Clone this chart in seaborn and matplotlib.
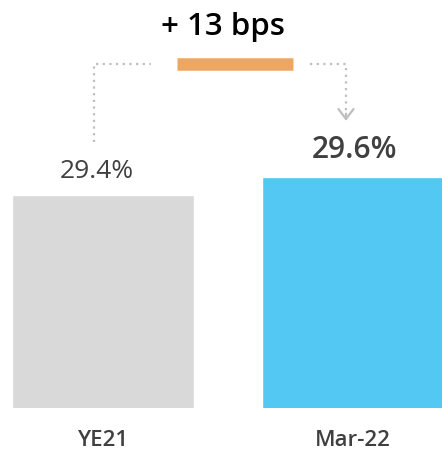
import matplotlib
matplotlib.use("Agg")
import matplotlib.pyplot as plt
import seaborn as sns

# data
periods = ["YE21", "Mar-22"]
ratios = [29.4, 29.6]
value_labels = ["29.4%", "29.6%"]
change_label = "+ 13 bps"
bar_colors = ["#d9d9d9", "#53c8f3"]

sns.set_theme(style="white")
plt.rcParams["font.family"] = ["Open Sans", "DejaVu Sans"]

fig = plt.figure(figsize=(4.42, 4.53), dpi=100)
ax = fig.add_axes([0, 45 / 453, 1, 408 / 453])

sns.barplot(x=periods, y=ratios, hue=periods, palette=bar_colors, width=0.73,
            legend=False, ax=ax, saturation=1)

# axis baseline is not zero (bars start around 27%)
ax.set_ylim(27.03, 27.03 + 408 / 90)
ax.set_xlim(-0.412, 1.356)
ax.set_yticks([])
ax.set_ylabel("")
ax.set_xlabel("")
for s in ax.spines.values():
    s.set_visible(False)
ax.tick_params(axis="x", length=0, pad=16)
for t in ax.get_xticklabels():
    t.set_fontweight("semibold")
    t.set_color("#404040")
    t.set_fontsize(16)

# value labels
ax.annotate(value_labels[0], (-0.025, ratios[0]), xytext=(0, 17), textcoords="offset points",
            ha="center", va="center", fontsize=19, color="#404040")
ax.annotate(value_labels[1], (1.005, ratios[1]), xytext=(0, 19), textcoords="offset points",
            ha="center", va="center", fontsize=21.5, fontweight="semibold", color="#404040")

# bracket connecting the two bars
lvl = 30.85
gray = "#bfbfbf"
ax.plot([-0.036, -0.036, 0.19], [ratios[0] + 0.59, lvl, lvl], ls=(0, (1, 2)),
        lw=1.6, color=gray, clip_on=False)
ax.plot([0.828, 0.972, 0.972], [lvl, lvl, ratios[1] + 0.64], ls=(0, (1, 2)),
        lw=1.6, color=gray, clip_on=False)
ax.annotate("", xy=(0.972, ratios[1] + 0.62), xytext=(0.972, ratios[1] + 0.70),
            arrowprops=dict(arrowstyle="->,head_length=0.6,head_width=0.45",
                            color=gray, lw=1.6, shrinkA=0, shrinkB=0))
ax.plot([0.296, 0.76], [lvl, lvl], lw=9, color="#eda762", solid_capstyle="butt")
ax.text(0.48, lvl + 0.41, change_label, ha="center", va="center", fontsize=22.5,
        fontweight="semibold", color="black")

fig.savefig("out.png", dpi=100)
